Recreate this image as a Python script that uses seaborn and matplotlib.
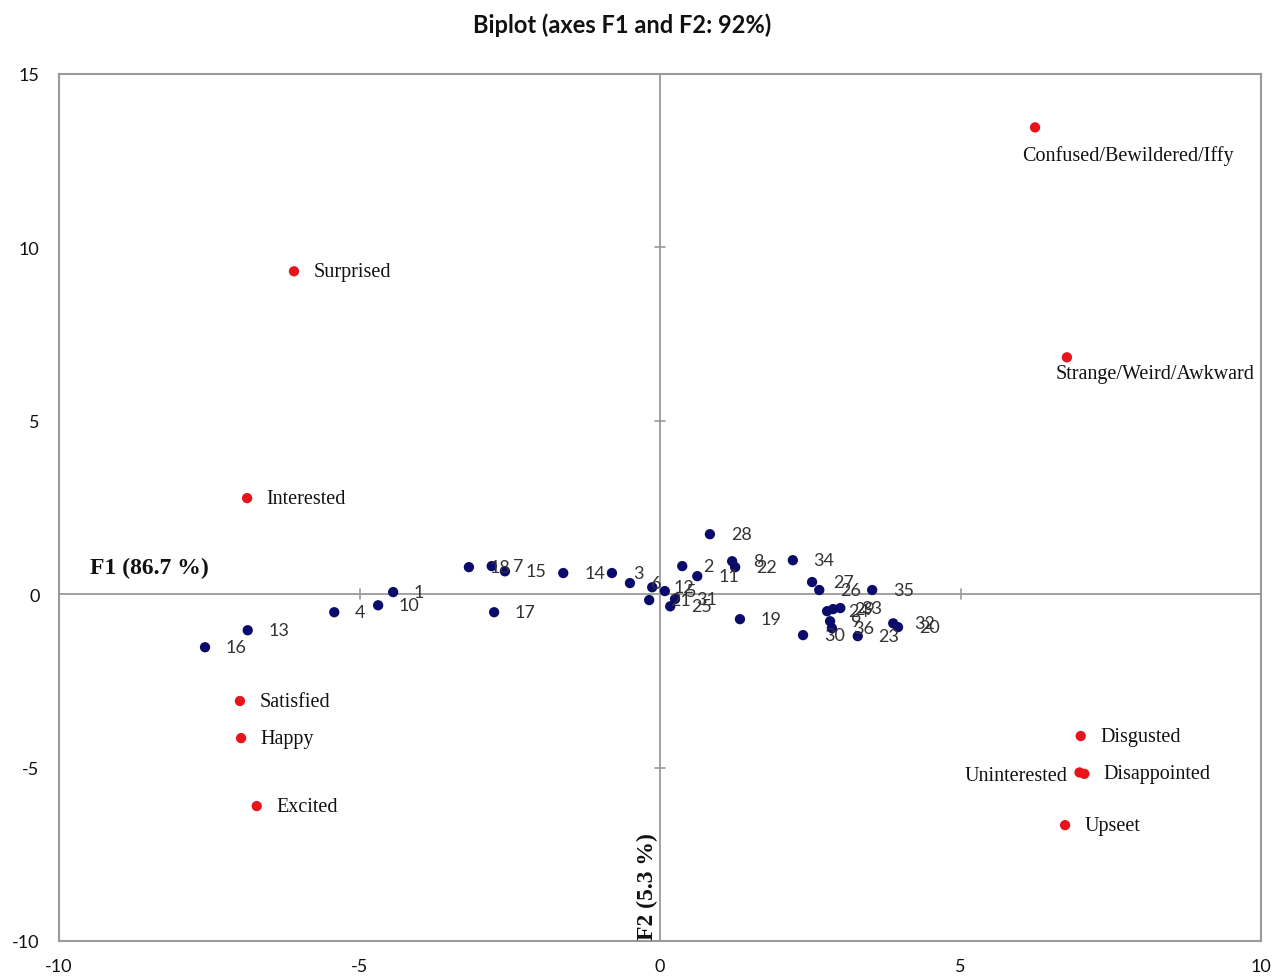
import matplotlib
matplotlib.use("Agg")
import matplotlib.pyplot as plt
import seaborn as sns
import pandas as pd

# ---- data ----
obs_ids = [str(i) for i in range(1, 37)]
obs_f1 = [-4.44, 0.37, -0.80, -5.42, 0.08, -0.50, -2.80, 1.20, 2.83, -4.69,
          0.62, -0.13, -6.86, -1.61, -2.58, -7.57, -2.76, -3.18, 1.33, 3.96,
          -0.18, 1.25, 3.29, 2.78, 0.17, 2.65, 2.53, 0.83, 2.88, 2.38,
          0.25, 3.88, 3.00, 2.21, 3.53, 2.86]
obs_f2 = [0.06, 0.81, 0.61, -0.52, 0.09, 0.32, 0.81, 0.95, -0.78, -0.32,
          0.52, 0.20, -1.04, 0.61, 0.66, -1.53, -0.52, 0.78, -0.72, -0.95,
          -0.17, 0.78, -1.21, -0.49, -0.35, 0.12, 0.35, 1.73, -0.43, -1.18,
          -0.14, -0.84, -0.40, 0.98, 0.12, -0.98]

emotions = ["Confused/Bewildered/Iffy", "Surprised", "Strange/Weird/Awkward",
            "Interested", "Satisfied", "Happy", "Excited", "Disgusted",
            "Uninterested", "Disappointed", "Upseet"]
emo_f1 = [6.24, -6.09, 6.77, -6.87, -6.99, -6.97, -6.71, 7.00, 6.98, 7.06, 6.74]
emo_f2 = [13.46, 9.31, 6.83, 2.77, -3.08, -4.15, -6.11, -4.09, -5.14, -5.18, -6.66]

title = "Biplot (axes F1 and F2: 92%)"
f1_label = "F1 (86.7 %)"
f2_label = "F2 (5.3 %)"
ticks_x = [-10, -5, 0, 5, 10]
ticks_y = [-10, -5, 0, 5, 10, 15]

# ---- styling ----
sns.set_style("white")
plt.rcParams["font.family"] = ["Lato", "DejaVu Sans"]
plt.rcParams["axes.unicode_minus"] = False

df = pd.concat([
    pd.DataFrame({"F1": obs_f1, "F2": obs_f2, "label": obs_ids, "kind": "obs"}),
    pd.DataFrame({"F1": emo_f1, "F2": emo_f2, "label": emotions, "kind": "var"}),
], ignore_index=True)

fig = plt.figure(figsize=(12.77, 9.79), dpi=100)
ax = fig.add_axes([0.0462, 0.0378, 0.9413, 0.8856])

grey = "#9a9a9a"
ax.axhline(0, color=grey, lw=1.3, zorder=1)
ax.axvline(0, color=grey, lw=1.3, zorder=1)
# small crossing tick marks on the zero lines
for t in ticks_x:
    if t not in (0, -10, 10):
        ax.plot([t, t], [-0.15, 0.15], color=grey, lw=1.2, zorder=1)
for t in ticks_y:
    if t not in (0, -10, 15):
        ax.plot([-0.08, 0.08], [t, t], color=grey, lw=1.2, zorder=1)

sns.scatterplot(data=df, x="F1", y="F2", hue="kind",
                palette={"obs": "#0b0b6b", "var": "#e8141c"},
                s=55, edgecolor="none", legend=False, ax=ax, zorder=3)

# observation labels
for lab, x, y in zip(obs_ids, obs_f1, obs_f2):
    ax.annotate(lab, (x, y), xytext=(15, 0), textcoords="offset points",
                ha="left", va="center", fontsize=13, color="#333333",
                family=["Lato", "DejaVu Sans"])

# emotion label offsets (points) and alignment
emo_offsets = {
    "Confused/Bewildered/Iffy": (-9, -20, "left"),
    "Strange/Weird/Awkward": (-8, -12, "left"),
    "Uninterested": (-9, -2, "right"),
}
for lab, x, y in zip(emotions, emo_f1, emo_f2):
    dx, dy, ha = emo_offsets.get(lab, (14, 0, "left"))
    ax.annotate(lab, (x, y), xytext=(dx, dy), textcoords="offset points",
                ha=ha, va="center", fontsize=14.5, color="#111111",
                family=["Liberation Serif", "DejaVu Serif"])

ax.text(-9.48, 0.78, f1_label, ha="left", va="center", fontsize=17,
        fontweight="bold", family=["Liberation Serif", "DejaVu Serif"], color="#111111")
ax.text(-0.04, -9.93, f2_label, ha="right", va="bottom", rotation=90, fontsize=17,
        fontweight="bold", family=["Liberation Serif", "DejaVu Serif"], color="#111111")

ax.set_xlim(-10, 10)
ax.set_ylim(-10, 15)
ax.set_xticks(ticks_x)
ax.set_yticks(ticks_y)
ax.set_xlabel("")
ax.set_ylabel("")
ax.tick_params(axis="both", length=0, labelsize=13, colors="#111111")
ax.tick_params(axis="x", pad=12)
ax.tick_params(axis="y", pad=14)
for sp in ax.spines.values():
    sp.set_color(grey)
    sp.set_linewidth(1.5)

fig.text(622 / 1277, 1 - 25 / 979, title, ha="center", va="center",
         fontsize=17, fontweight="bold", color="#111111")

fig.savefig("out.png", dpi=100)
